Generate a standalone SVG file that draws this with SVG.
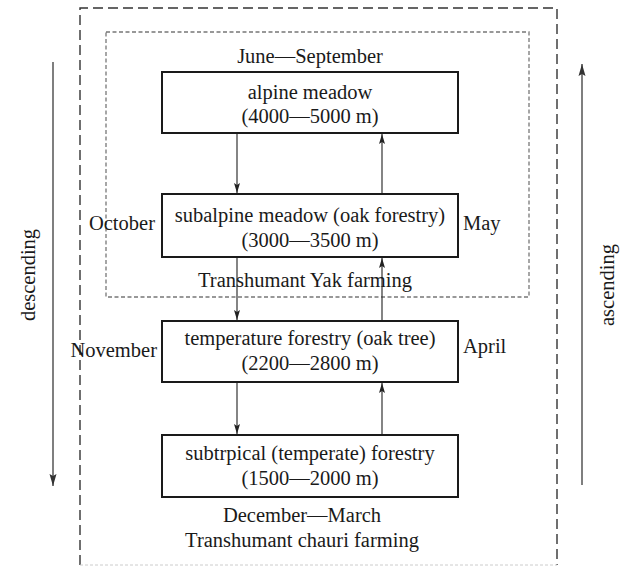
<svg xmlns="http://www.w3.org/2000/svg" width="620" height="566" viewBox="0 0 620 566">
<defs>
<style>
text{font-family:"Liberation Serif","Times New Roman",serif;font-size:20.5px;fill:#1a1a1a}
.c{text-anchor:middle}
.box{fill:#fff;stroke:#1a1a1a;stroke-width:2}
.link{stroke:#333;stroke-width:1.2;fill:none}
.long{stroke:#555;stroke-width:1.5;fill:none}
</style>
<marker id="ah" viewBox="0 0 10 10" refX="10" refY="5" markerWidth="10" markerHeight="10" markerUnits="userSpaceOnUse" orient="auto">
<path d="M0,2 L10,5 L0,8 L2,5 Z" fill="#222"/>
</marker>
<marker id="ahl" viewBox="0 0 12 10" refX="12" refY="5" markerWidth="12" markerHeight="10" markerUnits="userSpaceOnUse" orient="auto">
<path d="M0,1.5 L12,5 L0,8.5 L2,5 Z" fill="#333"/>
</marker>
</defs>
<rect width="620" height="566" fill="#fff"/>
<g id="frames">
<path d="M80,565 V8 H557 V565" fill="none" stroke="#333" stroke-width="1.4" stroke-dasharray="10,5"/>
<path d="M80,565 H557" fill="none" stroke="#ccc" stroke-width="1" stroke-dasharray="3,2"/>
<rect x="106" y="32" width="423" height="265" fill="none" stroke="#777" stroke-width="1.3" stroke-dasharray="4,2.5"/>
</g>
<g id="connectors">
<line class="link" x1="237" y1="133" x2="237" y2="193" marker-end="url(#ah)"/>
<line class="link" x1="237" y1="257" x2="237" y2="320" marker-end="url(#ah)"/>
<line class="link" x1="237" y1="382" x2="237" y2="434" marker-end="url(#ah)"/>
<line class="link" x1="382" y1="194" x2="382" y2="134" marker-end="url(#ah)"/>
<line class="link" x1="382" y1="321" x2="382" y2="258" marker-end="url(#ah)"/>
<line class="link" x1="382" y1="435" x2="382" y2="383" marker-end="url(#ah)"/>
<line class="long" x1="53" y1="62" x2="53" y2="486" marker-end="url(#ahl)"/>
<line class="long" x1="582" y1="485" x2="582" y2="64" marker-end="url(#ahl)"/>
</g>
<g id="n1">
<rect class="box" x="162" y="72" width="296" height="61"/>
<text class="c" x="310" y="99">alpine meadow</text>
<text class="c" x="310" y="123">(4000—5000 m)</text>
</g>
<g id="n2">
<rect class="box" x="162" y="194" width="296" height="63"/>
<text class="c" x="310" y="222">subalpine meadow (oak forestry)</text>
<text class="c" x="310" y="247">(3000—3500 m)</text>
</g>
<g id="n3">
<rect class="box" x="162" y="321" width="296" height="61"/>
<text class="c" x="310" y="345">temperature forestry (oak tree)</text>
<text class="c" x="310" y="370">(2200—2800 m)</text>
</g>
<g id="n4">
<rect class="box" x="162" y="435" width="296" height="62"/>
<text class="c" x="310" y="460">subtrpical (temperate) forestry</text>
<text class="c" x="310" y="485">(1500—2000 m)</text>
</g>
<g id="labels">
<text class="c" x="310" y="63">June—September</text>
<text x="155" y="230" text-anchor="end">October</text>
<text x="463" y="230">May</text>
<text class="c" x="305" y="287">Transhumant Yak farming</text>
<text x="157" y="357" text-anchor="end">November</text>
<text x="463" y="353">April</text>
<text class="c" x="302" y="522">December—March</text>
<text class="c" x="302" y="547">Transhumant chauri farming</text>
<text class="c" transform="translate(35,275) rotate(-90)">descending</text>
<text class="c" transform="translate(614,285) rotate(-90)">ascending</text>
</g>
</svg>
